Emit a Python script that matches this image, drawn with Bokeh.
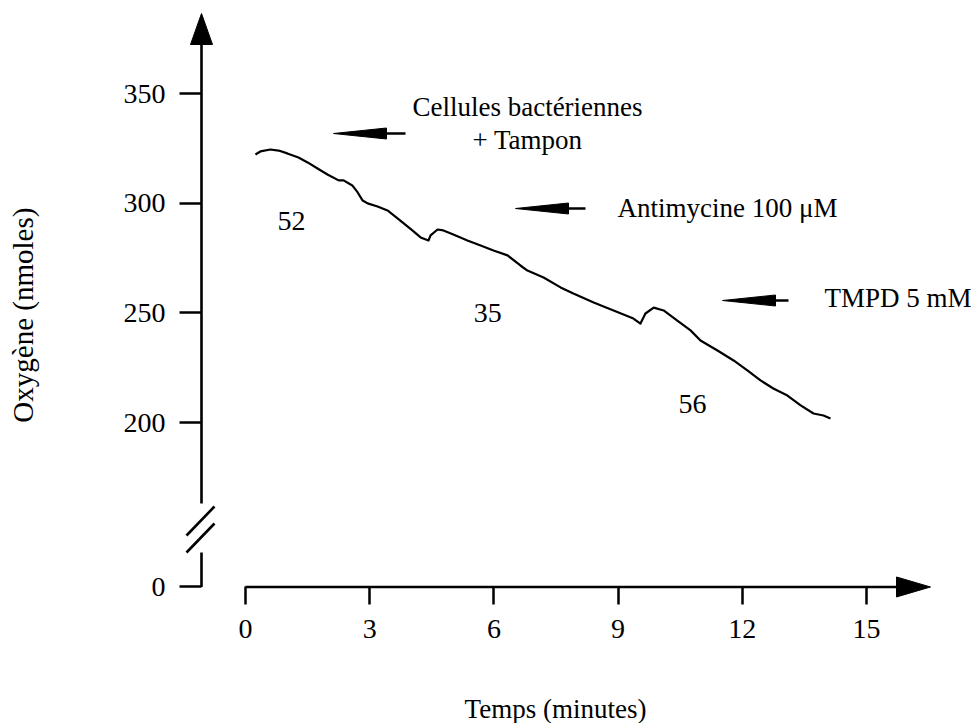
import math
from bokeh.plotting import figure
from bokeh.models import FixedTicker, Range1d, Label
from bokeh.core.properties import value
from bokeh.embed import file_html
from bokeh.resources import INLINE

# ---------------- data ----------------
time_min = [0.24, 0.36, 0.60, 0.80, 1.01, 1.28, 1.50, 1.74, 1.98, 2.25, 2.37, 2.58,
            2.71, 2.83, 2.95, 3.19, 3.43, 3.74, 4.03, 4.23, 4.42, 4.47, 4.64, 4.78,
            5.02, 5.36, 5.68, 5.99, 6.33, 6.64, 6.81, 7.20, 7.61, 7.92, 8.41, 8.89,
            9.37, 9.54, 9.66, 9.86, 10.10, 10.43, 10.75, 10.99, 11.40, 11.79, 12.13,
            12.44, 12.75, 13.09, 13.41, 13.72, 13.96, 14.13]
oxygen_nmol = [322.2, 323.6, 324.5, 324.0, 322.7, 320.8, 318.6, 315.8, 313.1, 310.4,
               310.4, 308.1, 304.9, 301.2, 299.9, 298.5, 296.7, 292.1, 287.6, 284.4,
               283.0, 285.3, 288.0, 287.6, 285.7, 283.0, 280.7, 278.4, 276.2, 271.6,
               269.3, 266.1, 261.6, 258.8, 254.7, 251.1, 247.4, 245.1, 249.7, 252.4,
               251.1, 246.5, 242.0, 237.4, 232.8, 228.3, 223.7, 219.2, 215.5, 212.3,
               207.8, 204.1, 203.2, 201.8]

x_ticks = [0, 3, 6, 9, 12, 15]
y_ticks = [200, 250, 300, 350]
y_zero_label = "0"          # label of the broken-axis origin

rate_labels = ["52", "35", "56"]
rate_x = [1.11, 5.85, 10.80]
rate_y = [292.1, 250.0, 208.5]

addition_texts = ["Cellules bactériennes", "Antimycine 100 μM", "TMPD 5 mM"]
addition_sub = "+ Tampon"

x_title = "Temps (minutes)"
y_title = "Oxygène  (nmoles)"

# ---------------- layout geometry (pixels from the top-left corner) ----------------
W, H = 976, 723
X0_PX, PX_PER_MIN = 245, 41.4          # x pixel of t=0, px per minute
Y200_PX, PX_PER_NMOL = 422, 2.193      # y pixel of 200 nmol, px per nmol


def xd(px):
    return (px - X0_PX) / PX_PER_MIN


def yd(py):
    return 200 + (Y200_PX - py) / PX_PER_NMOL


BASE = 125            # place on the broken axis that stands for 0
XL = xd(201)          # where the vertical axis stands

FONT = "Liberation Serif"
FS_TICK = "28px"
FS = "27px"

p = figure(width=W, height=H, output_backend="svg", toolbar_location=None,
           x_range=Range1d(xd(0), xd(W)), y_range=Range1d(yd(H), yd(0)),
           min_border=0)
p.outline_line_color = None
p.grid.visible = False
p.background_fill_color = "white"
p.border_fill_color = "white"

# axes: ticks and tick labels, placed inside the frame
p.xaxis.fixed_location = BASE
p.yaxis.fixed_location = XL
p.xaxis.ticker = FixedTicker(ticks=x_ticks)
p.yaxis.ticker = FixedTicker(ticks=[BASE] + y_ticks)
p.yaxis.major_label_overrides = {BASE: y_zero_label}
for ax in (p.xaxis, p.yaxis):
    ax.axis_line_color = None
    ax.minor_tick_line_color = None
    ax.major_tick_in = 0
    ax.major_tick_line_width = 2.5
    ax.major_tick_line_color = "black"
    ax.major_label_text_font = FONT
    ax.major_label_text_font_size = FS_TICK
    ax.major_label_text_color = "black"
p.xaxis.major_tick_out = 18
p.xaxis.major_label_standoff = 15
p.yaxis.major_tick_out = 22
p.yaxis.major_label_standoff = 14

LW = 2.6
# axis lines (the vertical one broken)
p.segment(x0=[0, XL, XL], y0=[BASE, BASE, yd(503)],
          x1=[xd(900), XL, XL], y1=[BASE, yd(552), yd(42)],
          line_color="black", line_width=LW)
# break marks
p.segment(x0=[xd(186), xd(186)], y0=[yd(535), yd(552)],
          x1=[xd(214), xd(214)], y1=[yd(506), yd(523)],
          line_color="black", line_width=LW)
# axis arrowheads
p.patches([[xd(930), xd(896), xd(896)], [XL, XL - 11 / PX_PER_MIN, XL + 11 / PX_PER_MIN]],
          [[BASE, BASE + 10 / PX_PER_NMOL, BASE - 10 / PX_PER_NMOL], [yd(13), yd(44), yd(44)]],
          fill_color="black", line_color="black", line_width=1)

# the recorded trace
p.line(time_min, oxygen_nmol, line_color="black", line_width=2.2, line_join="round")

# pointer arrows for additions
tip_x = [xd(333), xd(515), xd(722)]
tail_x = [xd(405), xd(585), xd(788)]
arrow_y = [yd(133), yd(208), yd(300)]
HL = 53 / PX_PER_MIN
HH = 5.5 / PX_PER_NMOL
p.patches([[t, t + HL, t + HL] for t in tip_x],
          [[y, y + HH, y - HH] for y in arrow_y],
          fill_color="black", line_color="black", line_width=1)
p.segment(x0=[t + HL for t in tip_x], y0=arrow_y, x1=tail_x, y1=arrow_y,
          line_color="black", line_width=2.5)

# rate numbers
p.text(x=rate_x, y=rate_y, text=rate_labels, text_font=value(FONT),
       text_font_size=FS_TICK, text_align="center", text_baseline="middle", text_color="black")

# addition labels
lab_kw = dict(text_font=FONT, text_font_size=FS, text_color="black", text_baseline="middle")
p.add_layout(Label(x=xd(527), y=yd(106), text=addition_texts[0], text_align="center", **lab_kw))
p.add_layout(Label(x=xd(527), y=yd(139), text=addition_sub, text_align="center", **lab_kw))
p.add_layout(Label(x=xd(617), y=yd(207), text=addition_texts[1], text_align="left", **lab_kw))
p.add_layout(Label(x=xd(824), y=yd(297), text=addition_texts[2], text_align="left", **lab_kw))

# axis titles
p.add_layout(Label(x=xd(555), y=yd(708), text=x_title, text_align="center", **lab_kw))
p.add_layout(Label(x=xd(22), y=yd(311), text=y_title, text_align="center",
                   angle=math.pi / 2, text_font=FONT, text_font_size="29px",
                   text_color="black", text_baseline="middle"))

open("out.html", "w").write(file_html(p, INLINE))
